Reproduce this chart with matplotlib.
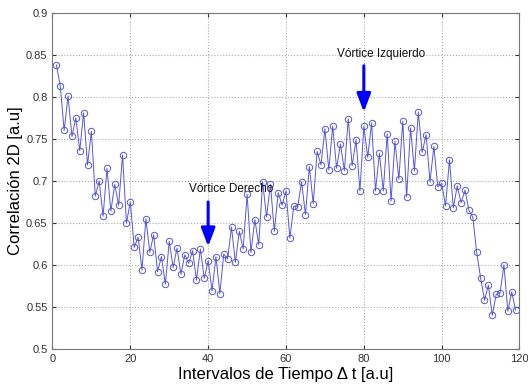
import numpy as np
import matplotlib
matplotlib.use('Agg')
import matplotlib.pyplot as plt

plt.rcParams['font.family'] = ['Liberation Sans', 'DejaVu Sans']

# intervalos de tiempo (1..119) and correlacion 2D
intervalos = np.arange(1, 120)
correlacion = [
    0.838, 0.813, 0.760, 0.801, 0.753, 0.775, 0.736, 0.781, 0.719, 0.759,
    0.682, 0.700, 0.658, 0.715, 0.664, 0.696, 0.671, 0.731, 0.650, 0.675,
    0.621, 0.633, 0.594, 0.655, 0.615, 0.636, 0.592, 0.610, 0.577, 0.628,
    0.597, 0.620, 0.589, 0.612, 0.602, 0.617, 0.582, 0.619, 0.584, 0.605,
    0.569, 0.610, 0.566, 0.613, 0.607, 0.645, 0.603, 0.640, 0.619, 0.684,
    0.615, 0.654, 0.624, 0.699, 0.657, 0.696, 0.640, 0.686, 0.671, 0.688,
    0.632, 0.670, 0.669, 0.699, 0.660, 0.717, 0.673, 0.735, 0.719, 0.762,
    0.713, 0.765, 0.715, 0.744, 0.712, 0.774, 0.718, 0.749, 0.688, 0.765,
    0.728, 0.769, 0.688, 0.733, 0.688, 0.756, 0.676, 0.747, 0.702, 0.771,
    0.681, 0.763, 0.712, 0.782, 0.734, 0.755, 0.699, 0.741, 0.693, 0.697,
    0.670, 0.725, 0.668, 0.694, 0.674, 0.689, 0.665, 0.657, 0.615, 0.585,
    0.558, 0.576, 0.540, 0.565, 0.567, 0.600, 0.545, 0.568, 0.546,
]

x_ticks = [0, 20, 40, 60, 80, 100, 120]
y_ticks = [0.5, 0.55, 0.6, 0.65, 0.7, 0.75, 0.8, 0.85, 0.9]
y_tick_labels = ['0.5', '0.55', '0.6', '0.65', '0.7', '0.75', '0.8', '0.85', '0.9']

# annotations: (label, arrow x, arrow start y, arrow tip y, text x, text y)
anotaciones = [
    ('Vórtice Derecho', 40, 0.675, 0.622, 46, 0.690),
    ('Vórtice Izquierdo', 80, 0.837, 0.782, 84.5, 0.851),
]

fig = plt.figure(figsize=(5.28, 3.88), dpi=100)
ax = fig.add_axes([0.0994, 0.1005, 0.8845, 0.8665])

ax.plot(intervalos, correlacion, '-', color='#5555dd', linewidth=0.7,
        marker='o', markersize=4.6, markerfacecolor='none',
        markeredgecolor='#5555dd', markeredgewidth=0.7)

for texto, xa, y0, y1, xt, yt in anotaciones:
    ax.annotate('', xy=(xa, y1), xytext=(xa, y0),
                arrowprops=dict(arrowstyle='-|>,head_length=1.1,head_width=0.42',
                                color='#0000ff', lw=2.2, shrinkA=0, shrinkB=0))
    ax.text(xt, yt, texto, ha='center', va='center', fontsize=8.5, color='#111111')

ax.set_xlim(0, 120)
ax.set_ylim(0.5, 0.9)
ax.set_xticks(x_ticks)
ax.set_yticks(y_ticks)
ax.set_yticklabels(y_tick_labels)
ax.tick_params(direction='in', length=3, labelsize=8, colors='#333333',
               top=True, right=True)
for s in ax.spines.values():
    s.set_color('#777777')
    s.set_linewidth(0.8)
ax.grid(True, linestyle=':', color='#aaaaaa', linewidth=0.8)

ax.set_xlabel('Intervalos de Tiempo Δ t [a.u]', fontsize=12, labelpad=2)
ax.set_ylabel('Correlación 2D [a.u]', fontsize=12, labelpad=2)

fig.savefig('out.png', dpi=100)
